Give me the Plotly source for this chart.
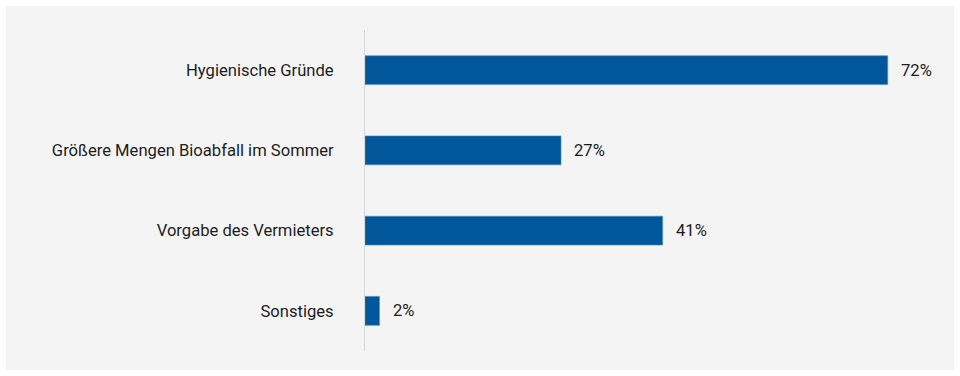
import plotly.graph_objects as go

categories = ["Hygienische Gründe", "Größere Mengen Bioabfall im Sommer", "Vorgabe des Vermieters", "Sonstiges"]
values = [72, 27, 41, 2]
value_labels = ["72%", "27%", "41%", "2%"]

bar_color = "#02579a"
text_color = "#1c1c1c"
font_family = "Roboto, 'Roboto Condensed', Arial, sans-serif"
font_size = 16.6

fig = go.Figure()
fig.add_trace(go.Bar(
    x=values,
    y=categories,
    orientation="h",
    width=0.36,
    marker=dict(color=bar_color, line=dict(color="#4f8fc4", width=0.6)),
    hoverinfo="skip",
))

for cat, val, lab in zip(categories, values, value_labels):
    fig.add_annotation(
        x=val, y=cat, text=lab, showarrow=False,
        xanchor="left", xshift=11,
        font=dict(family=font_family, size=font_size, color=text_color),
    )

# light grey panel behind the plot
fig.add_shape(
    type="rect", xref="paper", yref="paper",
    x0=-(365 - 6) / 575, x1=(954 - 365) / 575,
    y0=-(370 - 351) / 321, y1=(351 - 6) / 321,
    fillcolor="#f4f4f4", line=dict(width=0), layer="below",
)

fig.update_layout(
    width=960, height=376,
    margin=dict(l=365, r=20, t=30, b=25),
    paper_bgcolor="white",
    plot_bgcolor="rgba(0,0,0,0)",
    showlegend=False,
    font=dict(family=font_family, size=font_size, color=text_color),
    xaxis=dict(range=[0, 79.2], visible=False, fixedrange=True),
    yaxis=dict(
        categoryorder="array", categoryarray=categories[::-1],
        showline=True, linecolor="#d8d8d8", linewidth=1,
        showgrid=False, zeroline=False, ticks="",
        ticklabelstandoff=27,
        tickfont=dict(family=font_family, size=font_size, color=text_color),
        fixedrange=True,
    ),
)

fig.write_html("out.html")
